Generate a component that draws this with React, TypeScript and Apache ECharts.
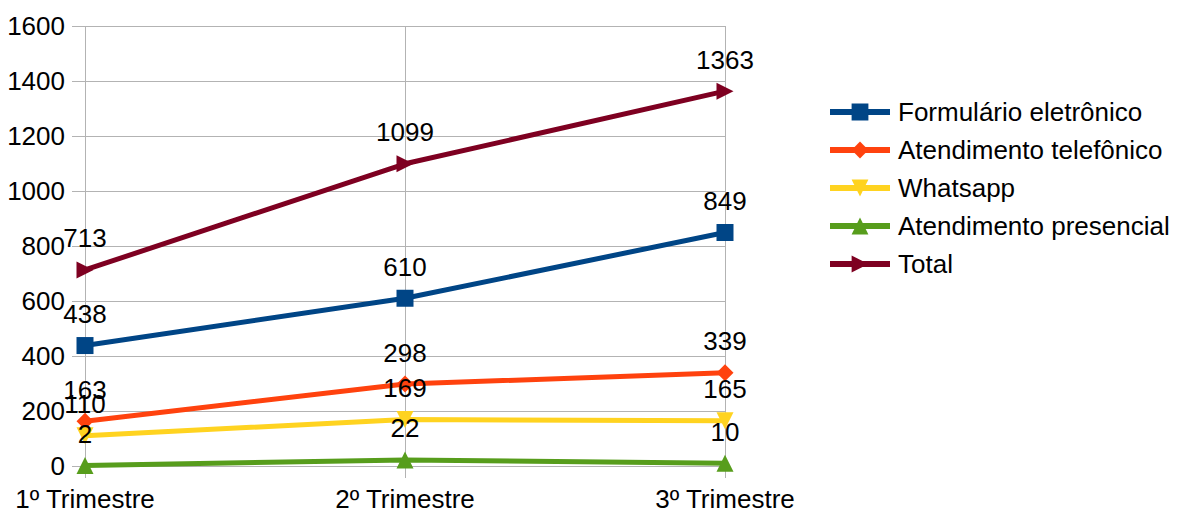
import React, { useEffect, useRef } from "react";
import * as echarts from "echarts";

const categories = ["1º Trimestre", "2º Trimestre", "3º Trimestre"];
const formulario = [438, 610, 849];
const telefonico = [163, 298, 339];
const whatsapp = [110, 169, 165];
const presencial = [2, 22, 10];
const total = [713, 1099, 1363];

const FONT = "Liberation Sans";
const FS = 26;

function mk(name: string, data: number[], color: string, symbol: string, rotate = 0) {
  return {
    name,
    type: "line",
    data,
    symbol,
    symbolSize: 17,
    symbolRotate: rotate,
    showAllSymbol: true,
    lineStyle: { color, width: 5 },
    itemStyle: { color },
    label: {
      show: true,
      position: "top",
      distance: 10,
      color: "#000",
      fontSize: FS,
      fontFamily: FONT,
    },
  };
}

export default function App() {
  const ref = useRef<HTMLDivElement>(null);
  useEffect(() => {
    if (!ref.current) return;
    const chart = echarts.init(ref.current, undefined, { renderer: "svg" });
    chart.setOption({
      animation: false,
      textStyle: { fontFamily: FONT },
      grid: { left: 85, right: 453, top: 26, bottom: 47, containLabel: false },
      legend: {
        orient: "vertical",
        left: 822,
        top: 94,
        itemWidth: 60,
        itemHeight: 21,
        itemGap: 12,
        lineStyle: { width: 6 },
        textStyle: { fontSize: FS, color: "#000", fontFamily: FONT, padding: [0, 0, 0, 3] },
        data: [
          "Formulário eletrônico",
          "Atendimento telefônico",
          "Whatsapp",
          "Atendimento presencial",
          "Total",
        ],
      },
      xAxis: {
        type: "category",
        data: categories,
        boundaryGap: false,
        axisLine: { show: true, lineStyle: { color: "#b3b3b3", width: 1 } },
        axisTick: { show: true, length: 12, lineStyle: { color: "#b3b3b3" } },
        splitLine: { show: true, lineStyle: { color: "#b3b3b3", width: 1 } },
        axisLabel: { color: "#000", fontSize: FS, fontFamily: FONT, margin: 20 },
      },
      yAxis: {
        type: "value",
        min: 0,
        max: 1600,
        interval: 200,
        axisLine: { show: false },
        axisTick: { show: true, length: 13, lineStyle: { color: "#b3b3b3" } },
        splitLine: { show: true, lineStyle: { color: "#b3b3b3", width: 1 } },
        axisLabel: {
          color: "#000",
          fontSize: FS,
          fontFamily: FONT,
          margin: 20,
          formatter: (v: number) => String(v),
        },
      },
      series: [
        mk("Formulário eletrônico", formulario, "#004586", "rect"),
        mk("Atendimento telefônico", telefonico, "#ff420e", "diamond"),
        mk("Whatsapp", whatsapp, "#ffd320", "triangle", 180),
        mk("Atendimento presencial", presencial, "#579d1c", "triangle"),
        mk("Total", total, "#7e0021", "triangle", -90),
      ],
    });
    return () => chart.dispose();
  }, []);
  return <div ref={ref} style={{ width: 1178, height: 513, position: "absolute", left: 0, top: 0 }} />;
}
